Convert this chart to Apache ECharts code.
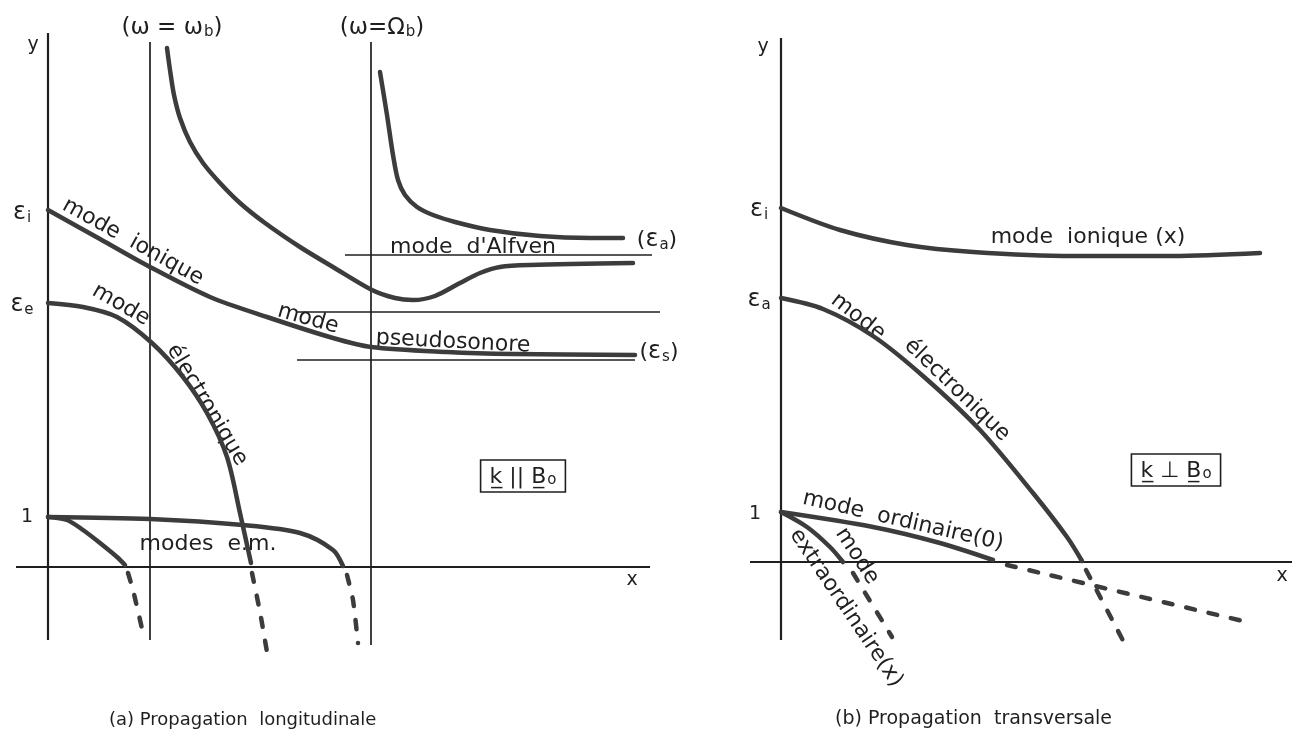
<!DOCTYPE html>
<html>
<head>
<meta charset="utf-8">
<title>Modes de propagation</title>
<script src="https://cdn.jsdelivr.net/npm/echarts@6/dist/echarts.min.js"></script>
<style>
  html, body { margin: 0; padding: 0; background: #ffffff; }
  #chart { width: 1300px; height: 750px; }
</style>
</head>
<body>
<div id="chart"></div>
<script>
// ---- (a) longitudinal propagation, k // B0 : curves as [x, y] in plot units ----
const axisA_x = [[-0.64, 0], [12.04, 0]];
const axisA_y = [[0, -1.46], [0, 10.68]];
const resonWb = [[2.04, 10.50], [2.04, -1.46]];      // ω = ω_b
const resonOb = [[6.46, 10.50], [6.46, -1.56]];      // ω = Ω_b
const levelA = [[5.94, 6.24], [12.08, 6.24]];        // ε_a level
const levelMid = [[4.98, 5.10], [12.24, 5.10]];
const levelS = [[4.98, 4.14], [11.74, 4.14]];        // ε_s level

const upperWb = [[2.38, 10.38], [2.44, 9.94], [2.52, 9.44], [2.64, 8.98], [2.84, 8.50],
  [3.10, 8.08], [3.44, 7.68], [3.84, 7.28], [4.34, 6.88], [5.04, 6.40], [5.70, 6.00],
  [6.48, 5.54], [6.94, 5.38], [7.30, 5.34], [7.74, 5.42], [8.24, 5.68], [8.64, 5.88],
  [9.04, 6.00], [9.64, 6.04], [11.70, 6.08]];
const alfven = [[6.64, 9.90], [6.78, 9.04], [6.90, 8.24], [7.00, 7.74], [7.14, 7.44],
  [7.38, 7.20], [7.70, 7.04], [8.14, 6.90], [8.84, 6.74], [9.84, 6.62], [10.84, 6.58],
  [11.50, 6.58]];
const ionicA = [[0, 7.14], [1.04, 6.56], [2.04, 6.00], [3.24, 5.40], [4.38, 5.00],
  [5.70, 4.58], [6.46, 4.40], [7.98, 4.30], [9.30, 4.26], [11.74, 4.24]];
const electronA = [[0, 5.28], [0.70, 5.20], [1.38, 5.00], [2.08, 4.48], [2.70, 3.80],
  [3.18, 3.08], [3.58, 2.20], [3.84, 1.08], [4.06, 0.08]];
const electronA_evan = [[4.08, -0.12], [4.24, -0.90], [4.38, -1.70]];
const emUpper = [[0, 1.0], [2.04, 0.96], [3.90, 0.84], [5.04, 0.68], [5.70, 0.34], [5.90, 0.02]];
const emUpper_evan = [[5.98, -0.16], [6.10, -0.66], [6.20, -1.52]];
const emLower = [[0, 1.0], [0.38, 0.94], [0.70, 0.74], [1.04, 0.48], [1.38, 0.20], [1.54, 0.04]];
const emLower_evan = [[1.60, -0.12], [1.70, -0.46], [1.90, -1.32]];

// ---- (b) transverse propagation, k ⊥ B0 ----
const axisB_x = [[-0.62, 0], [10.22, 0]];
const axisB_y = [[0, -1.56], [0, 10.48]];
const ionicB = [[0, 7.08], [1.18, 6.64], [2.52, 6.34], [3.84, 6.20], [5.84, 6.12],
  [7.84, 6.12], [9.58, 6.18]];
const electronB = [[0, 5.28], [0.84, 5.06], [1.84, 4.52], [2.84, 3.72], [3.98, 2.64],
  [5.04, 1.38], [5.72, 0.50], [6.02, 0.02]];
const electronB_evan = [[6.10, -0.16], [6.94, -1.76]];
const ordinary = [[0, 1.0], [1.84, 0.70], [3.18, 0.38], [4.24, 0.04]];
const ordinary_evan = [[4.52, -0.06], [9.32, -1.20]];
const extraord = [[0, 1.0], [0.52, 0.70], [0.98, 0.30], [1.24, 0.0]];
const extraord_evan = [[1.44, -0.22], [2.22, -1.50]];

// ---- drawing ----
const FONT = 'DejaVu Sans';
const INK = '#1f1f1f';
const CURVE = '#3c3c3c';

function curve(data, g, dashed) {
  return {
    type: 'line', xAxisIndex: g, yAxisIndex: g, data: data,
    symbol: 'none', smooth: dashed ? 0.2 : 0.3,
    silent: true, clip: false,
    lineStyle: { color: CURVE, width: 4.5, cap: 'round', join: 'round',
      type: dashed ? [9, 14] : 'solid' }
  };
}
function rule(data, g, w) {
  return {
    type: 'line', xAxisIndex: g, yAxisIndex: g, data: data,
    symbol: 'none', silent: true, clip: false,
    lineStyle: { color: INK, width: w || 1.7 }
  };
}

const rich = {
  g: { fontFamily: FONT, fontSize: 24, color: INK, lineHeight: 26, verticalAlign: 'middle' },
  s: { fontFamily: FONT, fontSize: 15, color: INK, lineHeight: 15, verticalAlign: 'bottom', padding: [0, 0, 0, 1] }
};

function note(x, y, text, rot, size) {
  return {
    value: [x, y],
    label: { formatter: text, rotate: rot || 0, fontSize: size || 22, color: INK, opacity: 1 }
  };
}
function boxNote(x, y, text) {
  return {
    value: [x, y],
    label: {
      formatter: text, fontSize: 22, color: INK, opacity: 1,
      borderColor: INK, borderWidth: 1.6, padding: [6, 9, 4, 9]
    }
  };
}
function notes(items, g) {
  return {
    type: 'scatter', xAxisIndex: g, yAxisIndex: g, symbolSize: 1, silent: true, clip: false,
    itemStyle: { color: 'rgba(255,255,255,0)' },
    label: {
      show: true, position: 'inside', align: 'center', verticalAlign: 'middle',
      color: INK, fontFamily: FONT, fontSize: 22, rich: rich
    },
    emphasis: { disabled: true },
    data: items
  };
}

const notesA = [
  note(2.48, 10.78, '(ω = ω{s|b})', 0, 23),
  note(6.68, 10.78, '(ω=Ω{s|b})', 0, 23),
  note(-0.30, 10.44, 'y', 0, 19),
  note(-0.52, 7.08, '{g|ε}{s|i}'),
  note(-0.52, 5.24, '{g|ε}{s|e}'),
  note(-0.42, 1.00, '1', 0, 19),
  note(11.68, -0.26, 'x', 0, 19),
  note(1.70, 6.50, 'mode  ionique', -29),
  note(1.46, 5.24, 'mode', -30),
  note(3.18, 3.24, 'électronique', -59),
  note(5.20, 4.96, 'mode', -16),
  note(8.10, 4.50, 'pseudosonore', -3),
  note(8.50, 6.40, 'mode  d\'Alfven', 0),
  note(12.18, 6.54, '({g|ε}{s|a})'),
  note(12.22, 4.30, '({g|ε}{s|s})'),
  note(3.20, 0.46, 'modes  e.m.', 0),
  boxNote(9.50, 1.82, 'k\u0332 || B\u0332{s|o}')
];
const notesB = [
  note(-0.36, 10.30, 'y', 0, 19),
  note(-0.44, 7.04, '{g|ε}{s|i}'),
  note(-0.44, 5.24, '{g|ε}{s|a}'),
  note(-0.52, 0.96, '1', 0, 19),
  note(10.02, -0.28, 'x', 0, 19),
  note(6.14, 6.50, 'mode  ionique (x)', 0),
  note(1.54, 4.90, 'mode', -38),
  note(3.52, 3.44, 'électronique', -44),
  note(2.44, 0.82, 'mode  ordinaire(0)', -13),
  note(1.52, 0.12, 'mode', -57),
  note(1.30, -0.92, 'extraordinaire(x)', -56),
  boxNote(7.90, 1.84, 'k\u0332 ⊥ B\u0332{s|o}')
];

const chart = echarts.init(document.getElementById('chart'), null, { renderer: 'canvas' });
chart.setOption({
  backgroundColor: '#ffffff',
  animation: false,
  title: [
    { text: '(a) Propagation  longitudinale', left: 104, top: 706,
      textStyle: { fontFamily: FONT, fontSize: 18, fontWeight: 'normal', color: INK } },
    { text: '(b) Propagation  transversale', left: 830, top: 705,
      textStyle: { fontFamily: FONT, fontSize: 19, fontWeight: 'normal', color: INK } }
  ],
  grid: [
    { left: 16, top: 10, width: 644, height: 640 },
    { left: 730, top: 10, width: 570, height: 640 }
  ],
  xAxis: [
    { type: 'value', gridIndex: 0, min: -0.64, max: 12.24, show: false },
    { type: 'value', gridIndex: 1, min: -1.02, max: 10.38, show: false }
  ],
  yAxis: [
    { type: 'value', gridIndex: 0, min: -1.66, max: 11.14, show: false },
    { type: 'value', gridIndex: 1, min: -1.76, max: 11.04, show: false }
  ],
  series: [
    rule(axisA_x, 0, 2.2), rule(axisA_y, 0, 2.2),
    rule(resonWb, 0), rule(resonOb, 0),
    rule(levelA, 0), rule(levelMid, 0), rule(levelS, 0),
    curve(upperWb, 0), curve(alfven, 0), curve(ionicA, 0),
    curve(electronA, 0), curve(electronA_evan, 0, true),
    curve(emUpper, 0), curve(emUpper_evan, 0, true),
    curve(emLower, 0), curve(emLower_evan, 0, true),
    notes(notesA, 0),

    rule(axisB_x, 1, 2.2), rule(axisB_y, 1, 2.2),
    curve(ionicB, 1), curve(electronB, 1), curve(electronB_evan, 1, true),
    curve(ordinary, 1), curve(ordinary_evan, 1, true),
    curve(extraord, 1), curve(extraord_evan, 1, true),
    notes(notesB, 1)
  ]
});
</script>
</body>
</html>
